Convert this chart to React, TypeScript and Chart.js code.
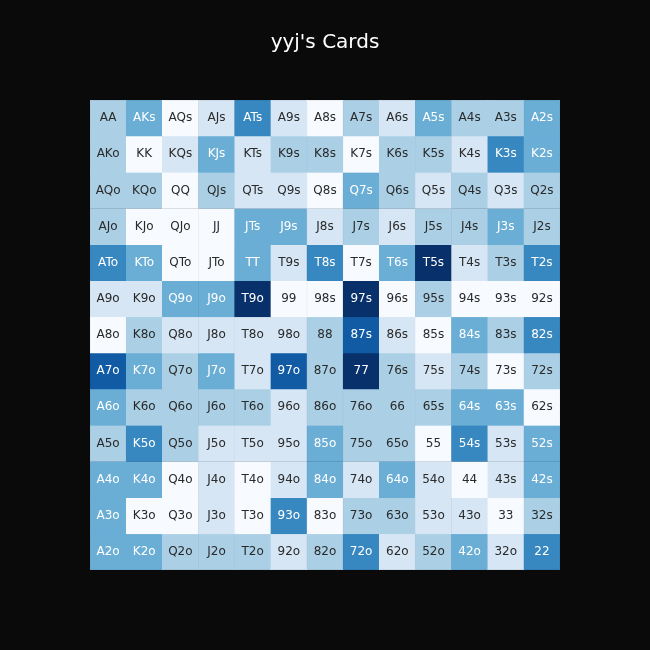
import React, { useEffect, useRef } from "react";
import { Chart, registerables } from "chart.js";

Chart.register(...registerables);

const TITLE = "yyj's Cards";
const ranks = ["A", "K", "Q", "J", "T", "9", "8", "7", "6", "5", "4", "3", "2"];

// Intensity level (0..6) of each hand, one array per row (first card rank)
const rowA = [2, 3, 0, 1, 4, 1, 0, 2, 1, 3, 2, 2, 3];
const rowK = [2, 0, 1, 3, 1, 2, 2, 0, 2, 2, 1, 4, 3];
const rowQ = [2, 2, 0, 2, 1, 1, 0, 3, 2, 1, 2, 1, 2];
const rowJ = [2, 0, 0, 0, 3, 3, 1, 2, 1, 2, 2, 3, 2];
const rowT = [4, 3, 0, 0, 3, 1, 4, 0, 3, 6, 1, 2, 4];
const row9 = [1, 1, 3, 3, 6, 0, 0, 6, 0, 2, 0, 0, 0];
const row8 = [0, 2, 1, 1, 1, 1, 2, 5, 1, 0, 3, 2, 4];
const row7 = [5, 3, 2, 3, 1, 5, 2, 6, 2, 1, 2, 0, 2];
const row6 = [3, 2, 2, 2, 2, 1, 2, 2, 2, 2, 3, 3, 0];
const row5 = [2, 4, 2, 1, 1, 1, 3, 2, 2, 0, 4, 1, 3];
const row4 = [3, 3, 0, 1, 0, 1, 3, 1, 3, 1, 0, 1, 3];
const row3 = [3, 0, 0, 1, 0, 4, 0, 2, 2, 1, 1, 0, 2];
const row2 = [3, 3, 2, 2, 2, 1, 2, 4, 1, 2, 3, 1, 4];

const levelRows = [rowA, rowK, rowQ, rowJ, rowT, row9, row8, row7, row6, row5, row4, row3, row2];

const blues = ["#f7fbff", "#d6e6f4", "#abd0e6", "#6aaed6", "#3787c0", "#105ba4", "#08306b"];

function handName(i: number, j: number): string {
  if (i === j) return ranks[i] + ranks[i];
  if (j > i) return ranks[i] + ranks[j] + "s";
  return ranks[j] + ranks[i] + "o";
}

const labelPlugin = {
  id: "cellLabels",
  afterDatasetsDraw(chart: any) {
    const ctx = chart.ctx;
    ctx.save();
    ctx.font = "12px 'DejaVu Sans'";
    ctx.textAlign = "center";
    ctx.textBaseline = "middle";
    chart.data.datasets.forEach((ds: any, i: number) => {
      const meta = chart.getDatasetMeta(i);
      meta.data.forEach((bar: any, j: number) => {
        const lvl = levelRows[i][j];
        const p = bar.getProps(["x", "y", "base"], true);
        const cy = (p.y + p.base) / 2;
        ctx.fillStyle = lvl >= 3 ? "#ffffff" : "#2a2a2a";
        ctx.fillText(handName(i, j), p.x, cy);
      });
    });
    ctx.restore();
  },
};

export default function App() {
  const ref = useRef<HTMLCanvasElement | null>(null);
  useEffect(() => {
    document.body.style.margin = "0";
    document.body.style.background = "#0a0a0a";
    const datasets = levelRows.map((row, i) => ({
      label: ranks[i],
      data: row.map(() => 1),
      backgroundColor: row.map((l) => blues[l]),
      borderColor: row.map((l) => blues[l]),
      borderWidth: 0.5,
      borderSkipped: false,
      barPercentage: 1,
      categoryPercentage: 1,
    }));
    const chart = new Chart(ref.current as HTMLCanvasElement, {
      type: "bar",
      data: { labels: ranks, datasets },
      options: {
        animation: false,
        responsive: false,
        layout: { padding: { left: 90, right: 90, top: 0, bottom: 80 } },
        scales: {
          x: { stacked: true, display: false, grid: { display: false } },
          y: { stacked: true, display: false, min: 0, max: 13, reverse: true },
        },
        plugins: {
          legend: { display: false },
          tooltip: { enabled: false },
          title: {
            display: true,
            text: TITLE,
            color: "#ffffff",
            font: { family: "'DejaVu Sans'", size: 20, weight: "normal" as any, lineHeight: 1.2 },
            padding: { top: 31, bottom: 45 },
          },
        },
      },
      plugins: [labelPlugin],
    });
    return () => chart.destroy();
  }, []);
  return (
    <div style={{ width: 650, height: 650, background: "#0a0a0a" }}>
      <canvas ref={ref} width={650} height={650} />
    </div>
  );
}
